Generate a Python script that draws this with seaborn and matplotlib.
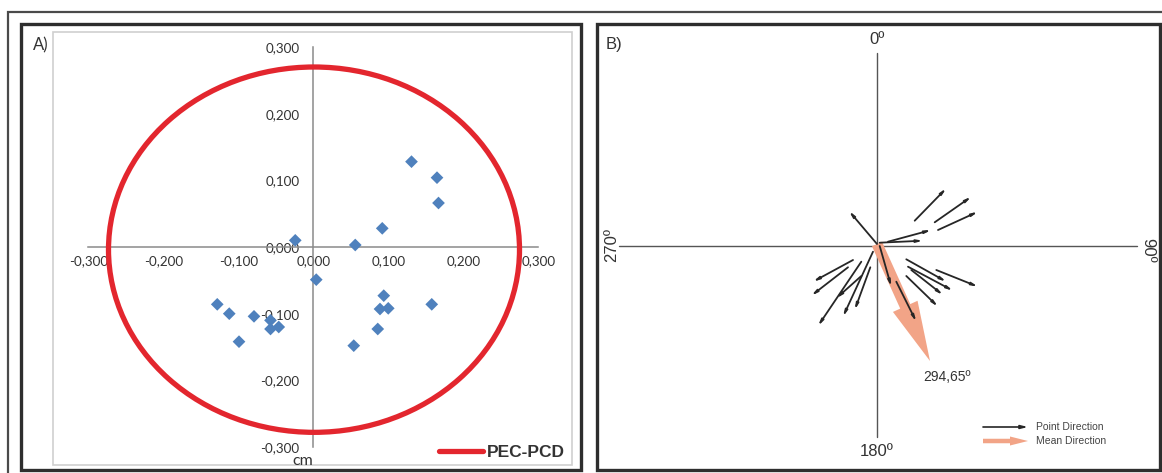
import matplotlib
matplotlib.use("Agg")
import matplotlib.pyplot as plt
import seaborn as sns
import pandas as pd
from matplotlib.patches import Rectangle, Circle
from matplotlib.lines import Line2D

# ---------------- data ----------------
# Panel A: point coordinates (cm)
pts_x = [0.131, 0.165, 0.167, 0.092, 0.056, -0.024, 0.004, 0.094, 0.089, 0.100,
         0.158, 0.086, 0.054, -0.128, -0.112, -0.079, -0.099, -0.057, -0.057, -0.046]
pts_y = [0.128, 0.104, 0.066, 0.028, 0.003, 0.010, -0.049, -0.073, -0.093, -0.092,
         -0.086, -0.123, -0.148, -0.086, -0.100, -0.104, -0.142, -0.110, -0.123, -0.120]
ticks_a = [-0.3, -0.2, -0.1, 0.0, 0.1, 0.2, 0.3]
tick_labels_a = ["-0,300", "-0,200", "-0,100", "0,000", "0,100", "0,200", "0,300"]
circle_center = (0.001, -0.004)
circle_radius = 0.274
circle_label = "PEC-PCD"
unit_label = "cm"

# Panel B: point-direction arrows (start -> end), plot units
arr_x0 = [37.7, 57.7, 61.0, 11.0, 2.7, 0.0, 29.3, 31.0, 34.3, 59.3, 29.3, 2.7, 19.3,
          -24.0, -29.0, -15.7, -4.0, -6.7, -15.7]
arr_y0 = [23.3, 21.7, 14.0, 2.3, 1.3, 0.0, -15.3, -22.7, -26.0, -26.0, -32.0, -2.0, -37.7,
          -16.0, -23.3, -17.7, -7.7, -23.3, -32.0]
arr_x1 = [69.3, 94.3, 101.0, 54.3, 46.0, -28.0, 69.3, 76.0, 66.0, 101.0, 61.0, 14.3, 39.3,
          -64.0, -65.7, -59.0, -34.0, -22.3, -40.7]
arr_y1 = [55.7, 47.3, 32.3, 14.0, 3.3, 33.0, -37.7, -46.7, -51.0, -42.7, -62.7, -42.7, -77.7,
          -37.7, -51.7, -82.0, -72.7, -66.0, -54.3]
mean_dx, mean_dy = 53.0, -117.0
mean_label = "294,65º"
compass_labels = ["0º", "90º", "180º", "270º"]
legend_b = ["Point Direction", "Mean Direction"]

# ---------------- figure ----------------
W, H = 1162, 473
sns.set_style("white")
plt.rcParams["font.family"] = ["Lato", "DejaVu Sans"]
fig = plt.figure(figsize=(W / 100, H / 100), dpi=100)

def fx(px):
    return px / W

def fy(py):
    return (H - py) / H

# frames
fig.add_artist(Rectangle((fx(8), fy(500)), fx(1200), (500 - 12) / H, transform=fig.transFigure,
                         fill=False, ec="#4a4a4a", lw=1.6))
fig.add_artist(Rectangle((fx(21), fy(470)), fx(581 - 21), (470 - 24) / H, transform=fig.transFigure,
                         fill=False, ec="#2e2e2e", lw=2.4))
fig.add_artist(Rectangle((fx(597), fy(470)), fx(1160 - 597), (470 - 24) / H, transform=fig.transFigure,
                         fill=False, ec="#2e2e2e", lw=2.4))

# ---------------- Panel A ----------------
axA = fig.add_axes([fx(53), fy(465), fx(572 - 53), (465 - 32) / H])
axA.set_xlim(-0.347, 0.345)
axA.set_ylim(-0.327, 0.3225)
df = pd.DataFrame({"x": pts_x, "y": pts_y})
sns.scatterplot(data=df, x="x", y="y", marker="D", color="#4F81BD", s=42,
                edgecolor="none", ax=axA, zorder=3, legend=False)
axA.add_patch(Circle(circle_center, circle_radius, fill=False, ec="#E3262E", lw=3.8, zorder=4))
for s in ["top", "right"]:
    axA.spines[s].set_visible(False)
for s in ["left", "bottom"]:
    axA.spines[s].set_position(("data", 0))
    axA.spines[s].set_bounds(-0.3, 0.3)
    axA.spines[s].set_color("#8a8a8a")
    axA.spines[s].set_linewidth(1.1)
axA.set_xticks(ticks_a)
axA.set_xticklabels(tick_labels_a)
axA.set_yticks(ticks_a)
axA.set_yticklabels(tick_labels_a)
axA.tick_params(direction="out", length=4, width=1, color="#8a8a8a", labelsize=9.6,
                labelcolor="#333333")
axA.tick_params(axis="x", pad=2)
axA.tick_params(axis="y", pad=6)
axA.set_xlabel("")
axA.set_ylabel("")
axA.add_patch(Rectangle((0, 0), 1, 1, transform=axA.transAxes, fill=False, ec="#cfcfcf",
                        lw=1.2, clip_on=False, zorder=0))
axA.text(0.0, -0.321, unit_label, ha="right", va="center", fontsize=11.5, color="#333333",
         transform=axA.transData)
handle = Line2D([], [], color="#E3262E", lw=3.8)
leg = axA.legend([handle], [circle_label], loc="lower right", frameon=False,
                 prop={"weight": "bold", "size": 12.5, "family": ["Liberation Sans", "DejaVu Sans"]},
                 handlelength=2.5, handletextpad=0.25,
                 borderaxespad=0.0, bbox_to_anchor=(1.0, -0.005))
for t in leg.get_texts():
    t.set_color("#333333")
fig.text(fx(33), fy(45), "A)", fontsize=12, color="#333333", va="center", ha="left")

# ---------------- Panel B ----------------
bfont = ["Liberation Sans", "DejaVu Sans"]
axB = fig.add_axes([fx(597), fy(470), fx(1160 - 597), (470 - 24) / H])
axB.set_xlim(-280, 283)
axB.set_ylim(-224, 222)
axB.axis("off")
axB.plot([0, 0], [-191, 193], color="#555555", lw=1.0, zorder=1)
axB.plot([-258, 260], [0, 0], color="#555555", lw=1.0, zorder=1)

axB.arrow(0, 2, mean_dx, mean_dy, width=11, head_width=27, head_length=60,
          length_includes_head=True, fc="#F2A487", ec="none", zorder=2)
for x0, y0, x1, y1 in zip(arr_x0, arr_y0, arr_x1, arr_y1):
    axB.annotate("", xy=(x1, y1 + 2), xytext=(x0, y0 + 2),
                 arrowprops=dict(arrowstyle="-|>,head_length=0.32,head_width=0.07",
                                 color="#262626", lw=1.3, shrinkA=0, shrinkB=0), zorder=3)

axB.text(mean_dx + 17, mean_dy - 14, mean_label, ha="center", va="center", fontsize=10,
         color="#333333", family=bfont)
axB.text(0, 206, compass_labels[0], ha="center", va="center", fontsize=12, color="#333333", family=bfont)
axB.text(0, -205, compass_labels[2], ha="center", va="center", fontsize=12, color="#333333", family=bfont)
axB.text(-265, 1, compass_labels[3], ha="center", va="center", fontsize=12, rotation=90,
         color="#333333", family=bfont)
axB.text(271, -4, compass_labels[1], ha="center", va="center", fontsize=12, rotation=270,
         color="#333333", family=bfont)

# legend of panel B
axB.annotate("", xy=(151, -181), xytext=(106, -181),
             arrowprops=dict(arrowstyle="-|>,head_length=0.4,head_width=0.1",
                             color="#262626", lw=1.2, shrinkA=0, shrinkB=0))
axB.arrow(106, -195, 45, 0, width=4.5, head_width=9, head_length=18,
          length_includes_head=True, fc="#F2A487", ec="none")
axB.text(159, -181, legend_b[0], ha="left", va="center", fontsize=7.5, color="#444444", family=bfont)
axB.text(159, -195, legend_b[1], ha="left", va="center", fontsize=7.5, color="#444444", family=bfont)
fig.text(fx(606), fy(45), "B)", fontsize=12, color="#333333", va="center", ha="left", family=bfont)

fig.savefig("out.png", dpi=100)
